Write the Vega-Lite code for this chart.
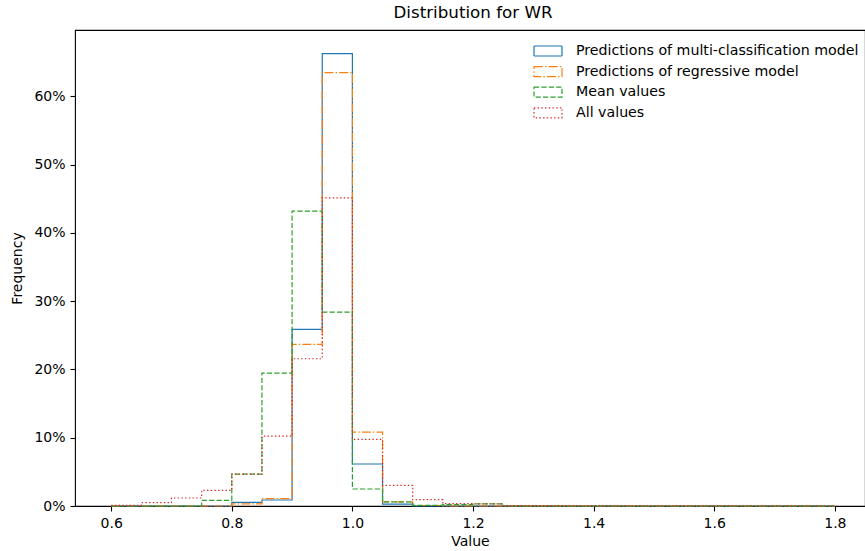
{
  "$schema": "https://vega.github.io/schema/vega-lite/v6.json",
  "width": 790,
  "height": 476,
  "autosize": "none",
  "padding": {"left": 75, "top": 30, "right": 0, "bottom": 45},
  "background": "white",
  "title": {"text": "Distribution for WR", "font": "DejaVu Sans", "fontSize": 16.7, "fontWeight": "normal", "color": "black", "offset": 8, "anchor": "middle", "dx": 3},
  "config": {
    "font": "DejaVu Sans",
    "view": {"stroke": "black", "strokeWidth": 1.1},
    "axis": {"grid": false, "domain": false, "tickColor": "black", "tickWidth": 1.1, "tickSize": 5, "labelPadding": 5, "labelFont": "DejaVu Sans", "labelFontSize": 14, "labelColor": "black", "titleFont": "DejaVu Sans", "titleFontSize": 14, "titleFontWeight": "normal", "titleColor": "black"}
  },
  "data": {"values": [
    {"series": "Predictions of multi-classification model", "x": 0.6, "freq": 0},
    {"series": "Predictions of multi-classification model", "x": 0.65, "freq": 0},
    {"series": "Predictions of multi-classification model", "x": 0.7, "freq": 0},
    {"series": "Predictions of multi-classification model", "x": 0.75, "freq": 0},
    {"series": "Predictions of multi-classification model", "x": 0.8, "freq": 0.0054},
    {"series": "Predictions of multi-classification model", "x": 0.85, "freq": 0.0088},
    {"series": "Predictions of multi-classification model", "x": 0.9, "freq": 0.2586},
    {"series": "Predictions of multi-classification model", "x": 0.95, "freq": 0.6625},
    {"series": "Predictions of multi-classification model", "x": 1.0, "freq": 0.0615},
    {"series": "Predictions of multi-classification model", "x": 1.05, "freq": 0.0027},
    {"series": "Predictions of multi-classification model", "x": 1.1, "freq": 0},
    {"series": "Predictions of multi-classification model", "x": 1.15, "freq": 0},
    {"series": "Predictions of multi-classification model", "x": 1.2, "freq": 0},
    {"series": "Predictions of multi-classification model", "x": 1.25, "freq": 0},
    {"series": "Predictions of multi-classification model", "x": 1.3, "freq": 0},
    {"series": "Predictions of multi-classification model", "x": 1.35, "freq": 0},
    {"series": "Predictions of multi-classification model", "x": 1.4, "freq": 0},
    {"series": "Predictions of multi-classification model", "x": 1.45, "freq": 0},
    {"series": "Predictions of multi-classification model", "x": 1.5, "freq": 0},
    {"series": "Predictions of multi-classification model", "x": 1.55, "freq": 0},
    {"series": "Predictions of multi-classification model", "x": 1.6, "freq": 0},
    {"series": "Predictions of multi-classification model", "x": 1.65, "freq": 0},
    {"series": "Predictions of multi-classification model", "x": 1.7, "freq": 0},
    {"series": "Predictions of multi-classification model", "x": 1.75, "freq": 0},
    {"series": "Predictions of multi-classification model", "x": 1.8, "freq": 0},
    {"series": "Predictions of regressive model", "x": 0.6, "freq": 0},
    {"series": "Predictions of regressive model", "x": 0.65, "freq": 0},
    {"series": "Predictions of regressive model", "x": 0.7, "freq": 0},
    {"series": "Predictions of regressive model", "x": 0.75, "freq": 0},
    {"series": "Predictions of regressive model", "x": 0.8, "freq": 0.003},
    {"series": "Predictions of regressive model", "x": 0.85, "freq": 0.0107},
    {"series": "Predictions of regressive model", "x": 0.9, "freq": 0.2366},
    {"series": "Predictions of regressive model", "x": 0.95, "freq": 0.6347},
    {"series": "Predictions of regressive model", "x": 1.0, "freq": 0.1083},
    {"series": "Predictions of regressive model", "x": 1.05, "freq": 0.006},
    {"series": "Predictions of regressive model", "x": 1.1, "freq": 0.0007},
    {"series": "Predictions of regressive model", "x": 1.15, "freq": 0},
    {"series": "Predictions of regressive model", "x": 1.2, "freq": 0},
    {"series": "Predictions of regressive model", "x": 1.25, "freq": 0},
    {"series": "Predictions of regressive model", "x": 1.3, "freq": 0},
    {"series": "Predictions of regressive model", "x": 1.35, "freq": 0},
    {"series": "Predictions of regressive model", "x": 1.4, "freq": 0},
    {"series": "Predictions of regressive model", "x": 1.45, "freq": 0},
    {"series": "Predictions of regressive model", "x": 1.5, "freq": 0},
    {"series": "Predictions of regressive model", "x": 1.55, "freq": 0},
    {"series": "Predictions of regressive model", "x": 1.6, "freq": 0},
    {"series": "Predictions of regressive model", "x": 1.65, "freq": 0},
    {"series": "Predictions of regressive model", "x": 1.7, "freq": 0},
    {"series": "Predictions of regressive model", "x": 1.75, "freq": 0},
    {"series": "Predictions of regressive model", "x": 1.8, "freq": 0},
    {"series": "Mean values", "x": 0.6, "freq": 0},
    {"series": "Mean values", "x": 0.65, "freq": 0},
    {"series": "Mean values", "x": 0.7, "freq": 0},
    {"series": "Mean values", "x": 0.75, "freq": 0.0083},
    {"series": "Mean values", "x": 0.8, "freq": 0.0468},
    {"series": "Mean values", "x": 0.85, "freq": 0.1946},
    {"series": "Mean values", "x": 0.9, "freq": 0.4317},
    {"series": "Mean values", "x": 0.95, "freq": 0.2839},
    {"series": "Mean values", "x": 1.0, "freq": 0.0249},
    {"series": "Mean values", "x": 1.05, "freq": 0.0059},
    {"series": "Mean values", "x": 1.1, "freq": 0.001},
    {"series": "Mean values", "x": 1.15, "freq": 0.002},
    {"series": "Mean values", "x": 1.2, "freq": 0.003},
    {"series": "Mean values", "x": 1.25, "freq": 0},
    {"series": "Mean values", "x": 1.3, "freq": 0},
    {"series": "Mean values", "x": 1.35, "freq": 0},
    {"series": "Mean values", "x": 1.4, "freq": 0},
    {"series": "Mean values", "x": 1.45, "freq": 0},
    {"series": "Mean values", "x": 1.5, "freq": 0},
    {"series": "Mean values", "x": 1.55, "freq": 0},
    {"series": "Mean values", "x": 1.6, "freq": 0},
    {"series": "Mean values", "x": 1.65, "freq": 0},
    {"series": "Mean values", "x": 1.7, "freq": 0},
    {"series": "Mean values", "x": 1.75, "freq": 0},
    {"series": "Mean values", "x": 1.8, "freq": 0},
    {"series": "All values", "x": 0.6, "freq": 0.0008},
    {"series": "All values", "x": 0.65, "freq": 0.0049},
    {"series": "All values", "x": 0.7, "freq": 0.0117},
    {"series": "All values", "x": 0.75, "freq": 0.023},
    {"series": "All values", "x": 0.8, "freq": 0.0468},
    {"series": "All values", "x": 0.85, "freq": 0.1024},
    {"series": "All values", "x": 0.9, "freq": 0.2156},
    {"series": "All values", "x": 0.95, "freq": 0.4512},
    {"series": "All values", "x": 1.0, "freq": 0.0976},
    {"series": "All values", "x": 1.05, "freq": 0.0302},
    {"series": "All values", "x": 1.1, "freq": 0.0092},
    {"series": "All values", "x": 1.15, "freq": 0.0034},
    {"series": "All values", "x": 1.2, "freq": 0.003},
    {"series": "All values", "x": 1.25, "freq": 0.0006},
    {"series": "All values", "x": 1.3, "freq": 0.0005},
    {"series": "All values", "x": 1.35, "freq": 0.0004},
    {"series": "All values", "x": 1.4, "freq": 0.0004},
    {"series": "All values", "x": 1.45, "freq": 0.0004},
    {"series": "All values", "x": 1.5, "freq": 0.0004},
    {"series": "All values", "x": 1.55, "freq": 0.0004},
    {"series": "All values", "x": 1.6, "freq": 0.0004},
    {"series": "All values", "x": 1.65, "freq": 0.0004},
    {"series": "All values", "x": 1.7, "freq": 0.0004},
    {"series": "All values", "x": 1.75, "freq": 0.0004},
    {"series": "All values", "x": 1.8, "freq": 0}
  ]},
  "mark": {"type": "line", "interpolate": "step-after", "strokeWidth": 1.2, "clip": false},
  "encoding": {
    "x": {"field": "x", "type": "quantitative", "scale": {"domain": [0.54, 1.85], "nice": false, "zero": false},
      "axis": {"values": [0.6, 0.8, 1.0, 1.2, 1.4, 1.6, 1.8], "format": ".1f", "title": "Value", "titlePadding": 4}},
    "y": {"field": "freq", "type": "quantitative", "scale": {"domain": [0, 0.697], "nice": false},
      "axis": {"values": [0, 0.1, 0.2, 0.3, 0.4, 0.5, 0.6], "format": ".0%", "title": "Frequency", "titlePadding": 9}},
    "color": {"field": "series", "type": "nominal",
      "scale": {"domain": ["Predictions of multi-classification model", "Predictions of regressive model", "Mean values", "All values"], "range": ["#1f77b4", "#ff7f0e", "#2ca02c", "#d62728"]},
      "legend": {"title": null, "orient": "none", "legendX": 462, "legendY": 10, "padding": 0, "symbolType": "M-1.4,-0.5H1.4V0.5H-1.4Z", "symbolSize": 400, "symbolStrokeWidth": 1.2, "symbolFillColor": "transparent", "labelFont": "DejaVu Sans", "labelFontSize": 14.2, "labelColor": "black", "labelLimit": 500, "labelOffset": 17, "rowPadding": 1.6}},
    "strokeDash": {"field": "series", "type": "nominal",
      "scale": {"domain": ["Predictions of multi-classification model", "Predictions of regressive model", "Mean values", "All values"], "range": [[1, 0], [8.9, 2.2, 1.4, 2.2], [5.2, 2.2], [1.4, 2.3]]},
      "legend": null}
  }
}
